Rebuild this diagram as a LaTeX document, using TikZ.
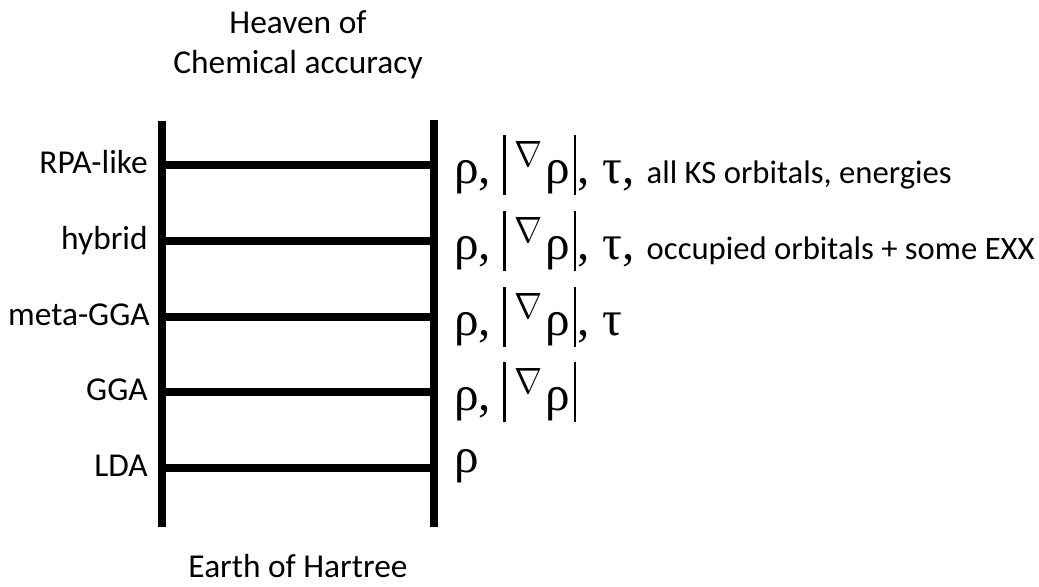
\documentclass[tikz,border=0pt]{standalone}
\usepackage{fontspec}
\setmainfont{Carlito}
\newfontfamily\grk{Liberation Serif}
\usepackage{graphicx}
\usepackage{tikz}
\usetikzlibrary{positioning}

\newcommand{\vbar}{\raisebox{-0.24cm}{\rule{1.2pt}{1.2cm}}}
\newcommand{\absgrad}{\vbar\hspace{0.18cm}\raisebox{0.34cm}{\resizebox{0.56cm}{0.5cm}{$\nabla$}}\hspace{0.06cm}ρ\hspace{0.08cm}\vbar\hspace{0.03cm}}
\newcommand{\note}[1]{{\fontsize{18.6}{22}\selectfont\rmfamily #1}}

\begin{document}
\begin{tikzpicture}[
    x=0.02cm, y=-0.02cm,
    rail/.style={line width=4.6pt, black},
    rung/.style={line width=4pt, black},
    level/.style={anchor=base east, font=\fontsize{19}{22}\selectfont, inner sep=0pt},
    ingr/.style={anchor=base west, font=\fontsize{28}{32}\selectfont\grk, inner sep=0pt},
    title/.style={align=center, font=\fontsize{19}{23}\selectfont}
]
\useasboundingbox (0,0) rectangle (1039,586);

\coordinate (lt) at (162,121);
\coordinate (lb) at (162,527);
\coordinate (rt) at (434,120);
\coordinate (rb) at (434,527);

\draw[rail] (lt) -- (lb);
\draw[rail] (rt) -- (rb);

\coordinate (l5) at (162,165); \coordinate (r5) at (434,165);
\coordinate (l4) at (162,241); \coordinate (r4) at (434,241);
\coordinate (l3) at (162,317); \coordinate (r3) at (434,317);
\coordinate (l2) at (162,392); \coordinate (r2) at (434,392);
\coordinate (l1) at (162,468); \coordinate (r1) at (434,468);

\draw[rung] (l5) -- (r5);
\draw[rung] (l4) -- (r4);
\draw[rung] (l3) -- (r3);
\draw[rung] (l2) -- (r2);
\draw[rung] (l1) -- (r1);

% rung names
\node[level] (rpa) at (148,173) {RPA-like};
\node[level] (hyb) at (148,249) {hybrid};
\node[level] (mgga) at (150,325) {meta-GGA};
\node[level] (gga) at (148,400) {GGA};
\node[level] (lda) at (148,476) {LDA};

% ingredients
\node[ingr] (i5) at (454,183) {ρ, \absgrad, τ, \note{all KS orbitals, energies}};
\node[ingr] (i4) at (454,259) {ρ, \absgrad, τ, \note{occupied orbitals + some EXX}};
\node[ingr] (i3) at (454,335) {ρ, \absgrad, τ};
\node[ingr] (i2) at (454,410) {ρ, \absgrad};
\node[ingr] (i1) at (454,472) {ρ};

\node[title] (heaven) at (298,45) {Heaven of\\Chemical accuracy};
\node[title] (earth) at (298,566) {Earth of Hartree};

\end{tikzpicture}
\end{document}
